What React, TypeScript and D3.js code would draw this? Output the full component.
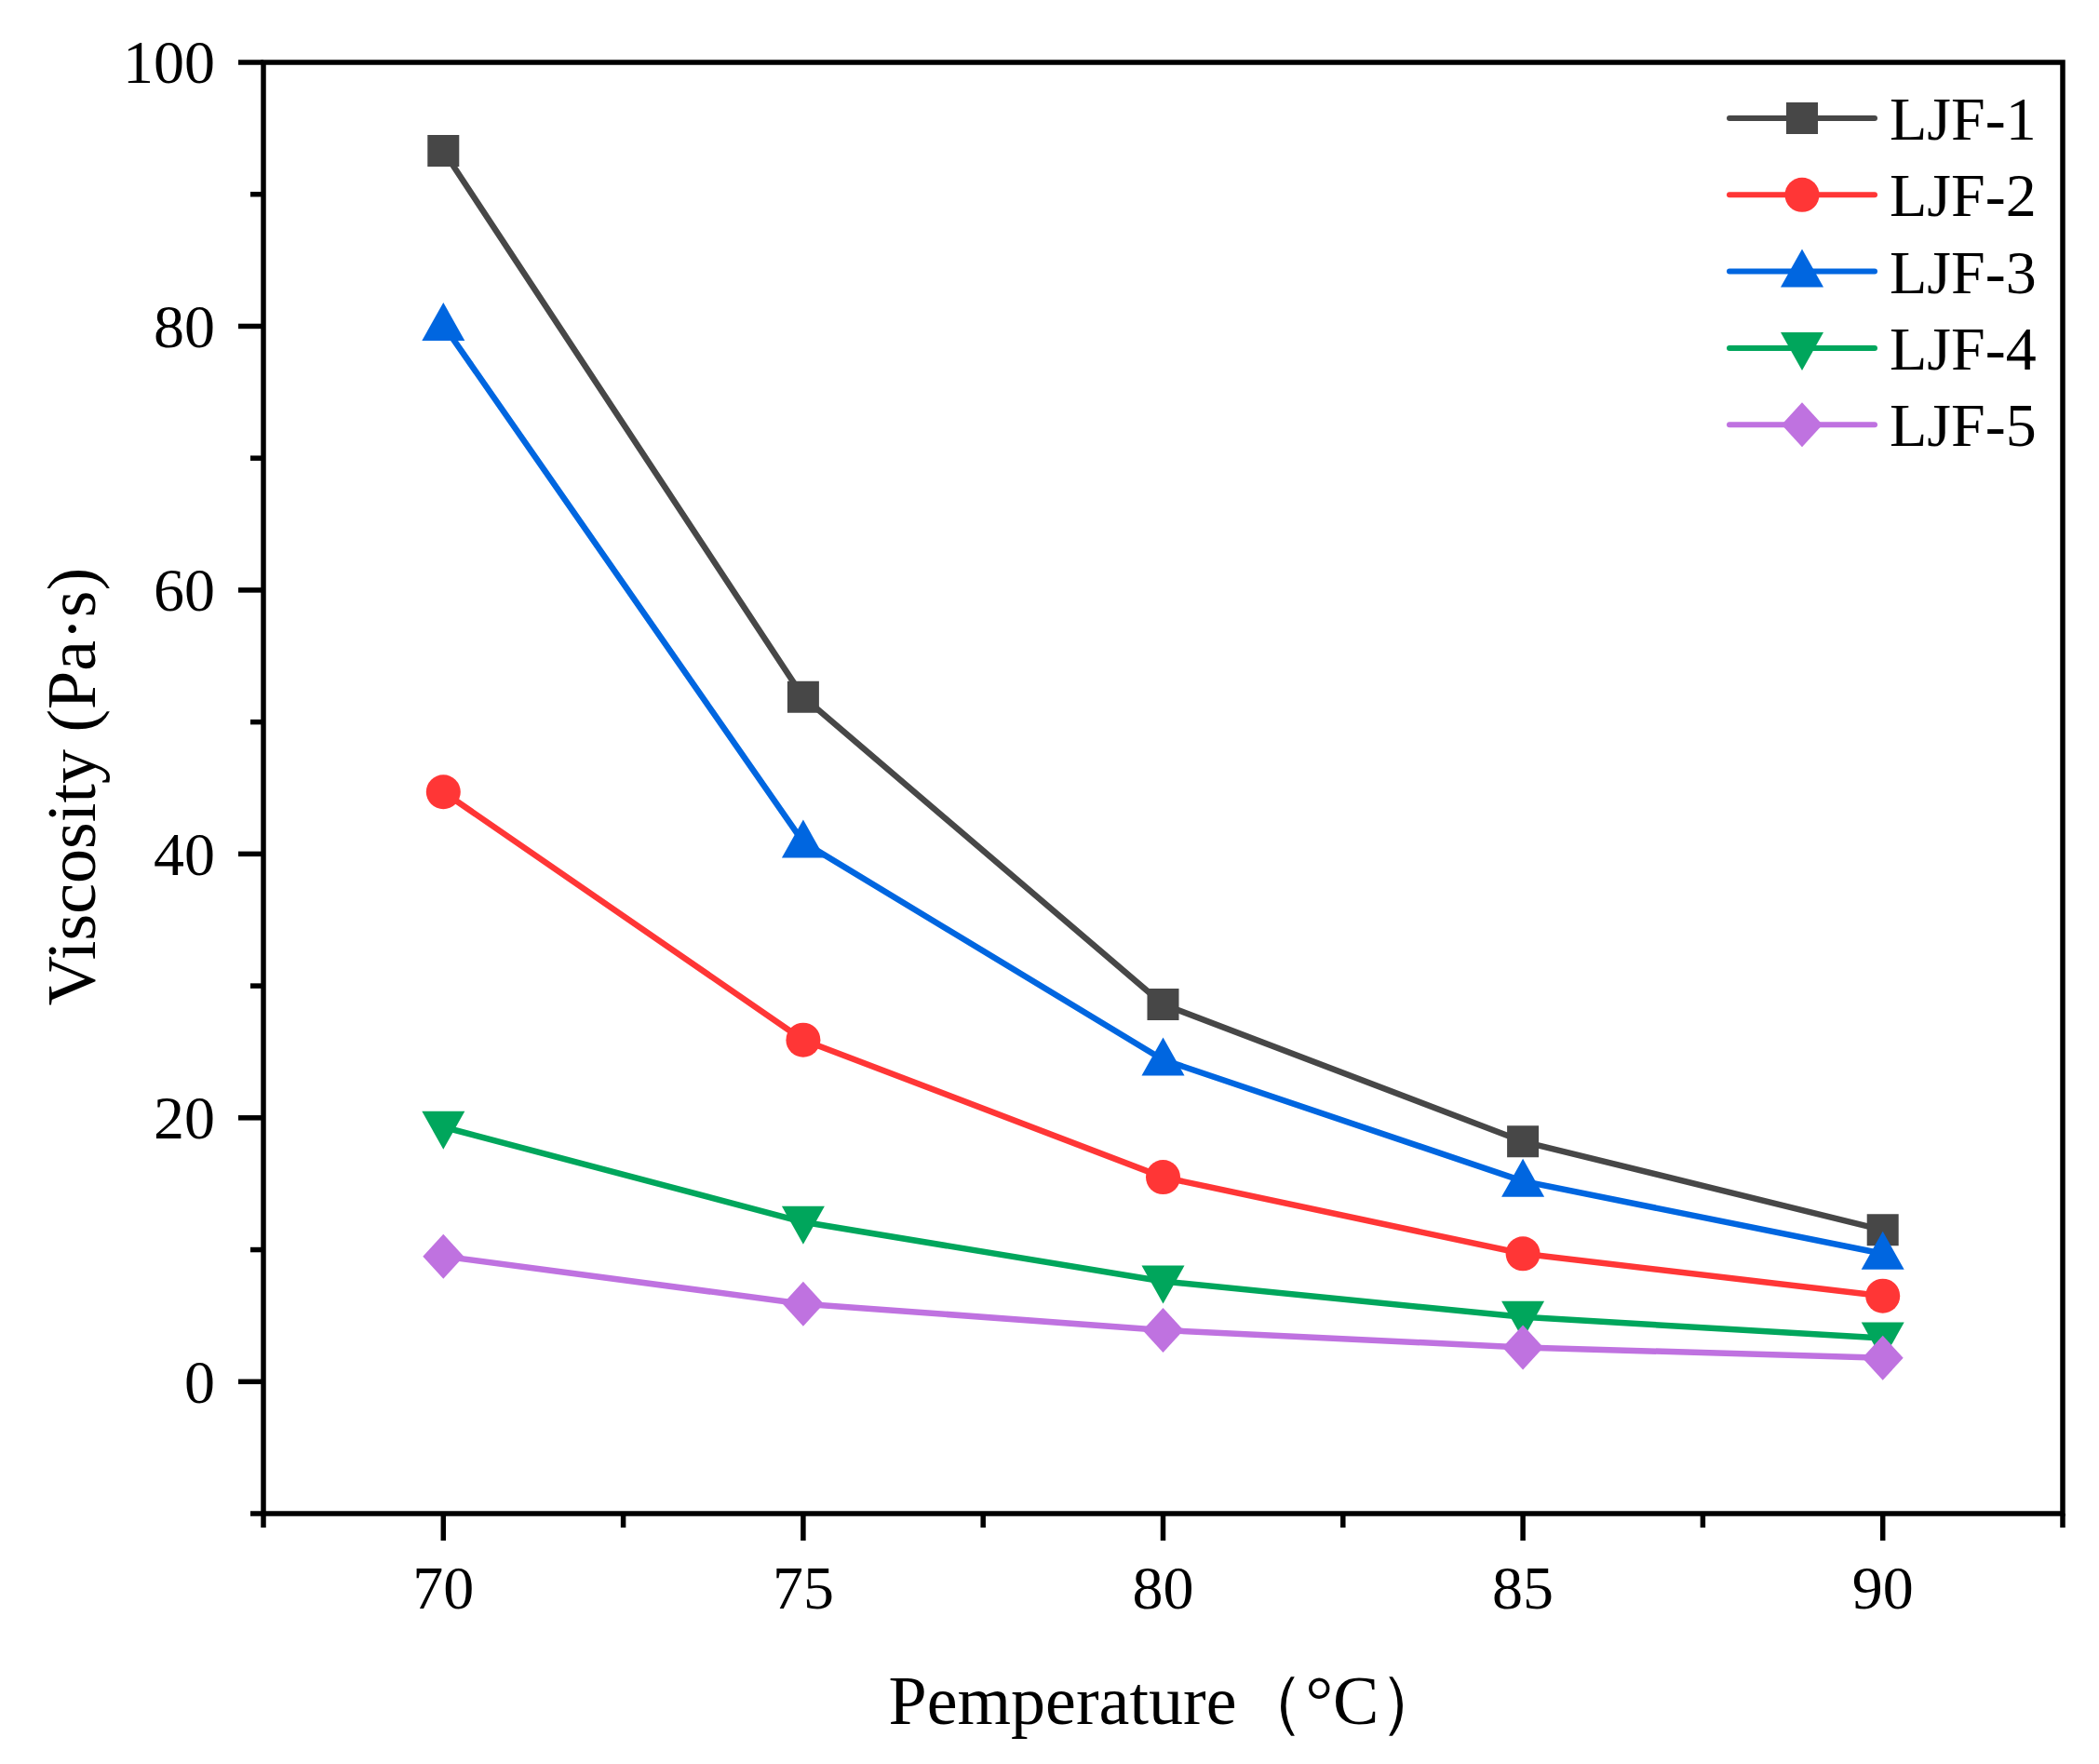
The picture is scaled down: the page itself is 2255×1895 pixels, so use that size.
import * as d3 from "d3";

// Temperatures (°C) and measured viscosity (Pa·s) per sample
const temps = [70, 75, 80, 85, 90];
const ljf1 = [93.3, 51.9, 28.6, 18.2, 11.5];
const ljf2 = [44.7, 25.9, 15.5, 9.7, 6.5];
const ljf3 = [80.1, 40.9, 24.4, 15.2, 9.7];
const ljf4 = [19.3, 12.1, 7.6, 4.9, 3.3];
const ljf5 = [9.5, 5.9, 3.9, 2.6, 1.8];

const seriesNames = ["LJF-1", "LJF-2", "LJF-3", "LJF-4", "LJF-5"];
const seriesValues = [ljf1, ljf2, ljf3, ljf4, ljf5];
const seriesColors = ["#474747", "#FF3636", "#0066E0", "#00A65C", "#BF72E0"];
const seriesShapes = ["square", "circle", "triangleUp", "triangleDown", "diamond"];

const yLabels = [0, 20, 40, 60, 80, 100];
const xLabels = [70, 75, 80, 85, 90];

const W = 2255;
const H = 1895;
const left = 283;
const right = 2216;
const top = 67;
const bottom = 1626;
const font = "'Liberation Serif', 'Times New Roman', serif";

function markerPath(shape: string): string {
    switch (shape) {
        case "square":
            return "M-17,-17H17V17H-17Z";
        case "circle":
            return d3.symbol(d3.symbolCircle, Math.PI * 18.5 * 18.5)() as string;
        case "triangleUp":
            return "M0,-24L23,17H-23Z";
        case "triangleDown":
            return "M0,24L23,-17H-23Z";
        default:
            return "M0,-24L22,0L0,24L-22,0Z";
    }
}

export default function App() {
    const x = d3.scaleLinear().domain([67.5, 92.5]).range([left, right]);
    const y = d3.scaleLinear().domain([-10, 100]).range([bottom, top]);

    const line = d3
        .line<[number, number]>()
        .x((d) => x(d[0]))
        .y((d) => y(d[1]));

    const yTicks = d3.range(-10, 100.1, 10);
    const xTicks = d3.range(67.5, 92.6, 2.5);

    const legendX0 = 1858;
    const legendX1 = 2014;
    const legendY = (i: number) => 127 + i * 82.3;

    return (
        <svg
            width={W}
            height={H}
            style={{ position: "absolute", left: 0, top: 0, background: "#fff" }}
        >
            <rect width={W} height={H} fill="#fff" />

            {/* series */}
            {seriesValues.map((vals, si) => {
                const pts = temps.map((t, i) => [t, vals[i]] as [number, number]);
                return (
                    <g key={seriesNames[si]}>
                        <path
                            d={line(pts) as string}
                            fill="none"
                            stroke={seriesColors[si]}
                            strokeWidth={6.5}
                            strokeLinejoin="round"
                        />
                        {pts.map((p, i) => (
                            <path
                                key={i}
                                d={markerPath(seriesShapes[si])}
                                transform={`translate(${x(p[0])},${y(p[1])})`}
                                fill={seriesColors[si]}
                            />
                        ))}
                    </g>
                );
            })}

            {/* frame */}
            <rect
                x={left}
                y={top}
                width={right - left}
                height={bottom - top}
                fill="none"
                stroke="#000"
                strokeWidth={5.5}
            />

            {/* y ticks */}
            {yTicks.map((v) => {
                const major = Math.round(v) % 20 === 0;
                return (
                    <line
                        key={`yt${v}`}
                        x1={left}
                        x2={left - (major ? 27 : 14)}
                        y1={y(v)}
                        y2={y(v)}
                        stroke="#000"
                        strokeWidth={5.5}
                    />
                );
            })}
            {yLabels.map((v) => (
                <text
                    key={`yl${v}`}
                    x={231}
                    y={y(v)}
                    dy="0.34em"
                    textAnchor="end"
                    fontFamily={font}
                    fontSize={66}
                    fill="#000"
                >
                    {v}
                </text>
            ))}

            {/* x ticks */}
            {xTicks.map((v) => {
                const major = Math.abs(v % 5) < 0.01;
                return (
                    <line
                        key={`xt${v}`}
                        x1={x(v)}
                        x2={x(v)}
                        y1={bottom}
                        y2={bottom + (major ? 29 : 15)}
                        stroke="#000"
                        strokeWidth={5.5}
                    />
                );
            })}
            {xLabels.map((v) => (
                <text
                    key={`xl${v}`}
                    x={x(v)}
                    y={1728}
                    textAnchor="middle"
                    fontFamily={font}
                    fontSize={66}
                    fill="#000"
                >
                    {v}
                </text>
            ))}

            {/* axis titles */}
            <text
                x={1255}
                y={1852}
                textAnchor="middle"
                fontFamily={font}
                fontSize={74}
                fill="#000"
            >
                Pemperature（°C）
            </text>
            <text
                transform="translate(102,845) rotate(-90)"
                textAnchor="middle"
                fontFamily={font}
                fontSize={74}
                fill="#000"
            >
                Viscosity (Pa·s)
            </text>

            {/* legend */}
            {seriesNames.map((name, i) => (
                <g key={`lg${name}`}>
                    <line
                        x1={legendX0}
                        x2={legendX1}
                        y1={legendY(i)}
                        y2={legendY(i)}
                        stroke={seriesColors[i]}
                        strokeWidth={6}
                        strokeLinecap="round"
                    />
                    <path
                        d={markerPath(seriesShapes[i])}
                        transform={`translate(${(legendX0 + legendX1) / 2},${legendY(i)})`}
                        fill={seriesColors[i]}
                    />
                    <text
                        x={2030}
                        y={legendY(i) + 23}
                        fontFamily={font}
                        fontSize={66}
                        fill="#000"
                    >
                        {name}
                    </text>
                </g>
            ))}
        </svg>
    );
}
